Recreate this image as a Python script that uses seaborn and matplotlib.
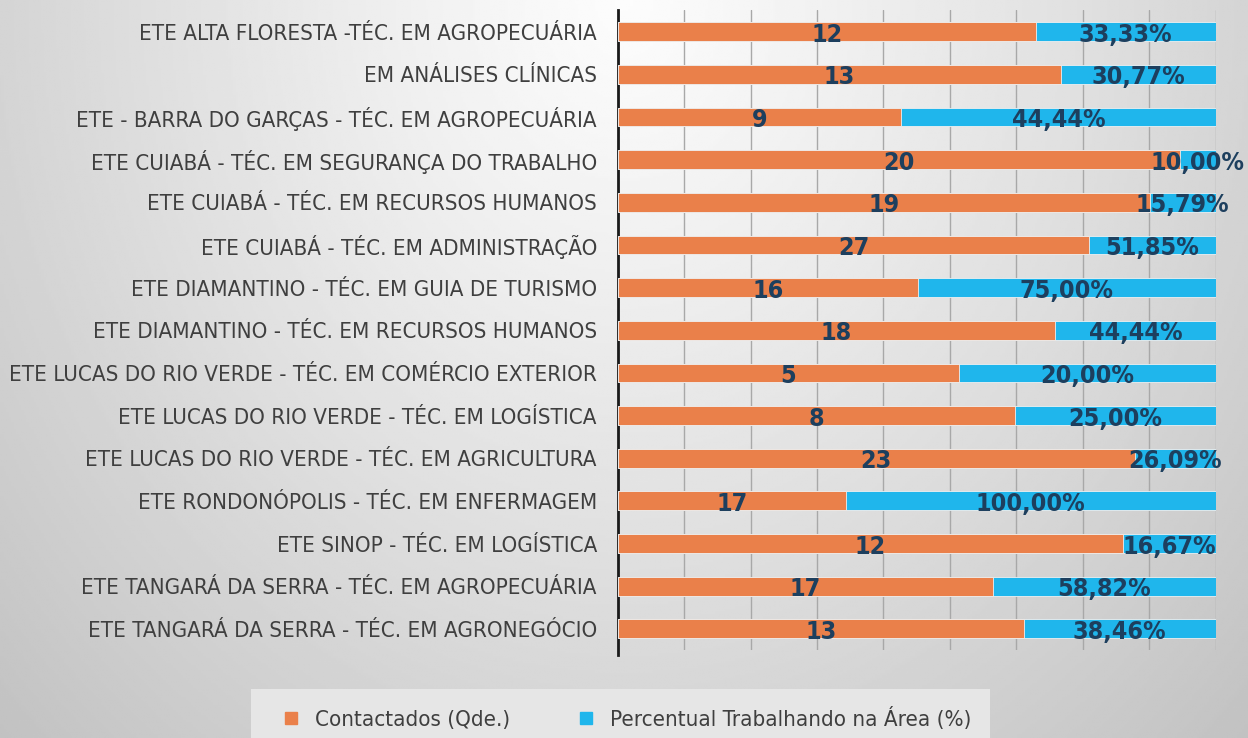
import numpy as np
import pandas as pd
import matplotlib.pyplot as plt
import seaborn as sns

# Dados (de cima para baixo)
cursos = [
    "ETE ALTA FLORESTA -TÉC. EM AGROPECUÁRIA",
    "EM ANÁLISES CLÍNICAS",
    "ETE - BARRA DO GARÇAS - TÉC. EM AGROPECUÁRIA",
    "ETE CUIABÁ - TÉC. EM SEGURANÇA DO TRABALHO",
    "ETE CUIABÁ - TÉC. EM RECURSOS HUMANOS",
    "ETE CUIABÁ - TÉC. EM ADMINISTRAÇÃO",
    "ETE DIAMANTINO - TÉC. EM GUIA DE TURISMO",
    "ETE DIAMANTINO - TÉC. EM RECURSOS HUMANOS",
    "ETE LUCAS DO RIO VERDE - TÉC. EM COMÉRCIO EXTERIOR",
    "ETE LUCAS DO RIO VERDE - TÉC. EM LOGÍSTICA",
    "ETE LUCAS DO RIO VERDE - TÉC. EM AGRICULTURA",
    "ETE RONDONÓPOLIS - TÉC. EM ENFERMAGEM",
    "ETE SINOP - TÉC. EM LOGÍSTICA",
    "ETE TANGARÁ DA SERRA - TÉC. EM AGROPECUÁRIA",
    "ETE TANGARÁ DA SERRA - TÉC. EM AGRONEGÓCIO",
]
contactados = [12, 13, 9, 20, 19, 27, 16, 18, 5, 8, 23, 17, 12, 17, 13]
percentual = ["33,33%", "30,77%", "44,44%", "10,00%", "15,79%", "51,85%", "75,00%",
              "44,44%", "20,00%", "25,00%", "26,09%", "100,00%", "16,67%", "58,82%", "38,46%"]
# comprimento relativo de cada segmento (escala 0-1)
seg_laranja = [0.699, 0.742, 0.474, 0.940, 0.890, 0.789, 0.502, 0.732,
               0.570, 0.664, 0.865, 0.382, 0.845, 0.628, 0.679]
seg_azul = [0.301, 0.258, 0.526, 0.060, 0.110, 0.211, 0.498, 0.268,
            0.430, 0.336, 0.135, 0.618, 0.155, 0.372, 0.321]

df = pd.DataFrame({"curso": cursos, "laranja": seg_laranja, "azul": seg_azul})
df["total"] = df["laranja"] + df["azul"]

laranja = "#EA804A"
azul = "#1FB6EC"
cor_rotulo = "#1D3F5E"
cor_texto = "#3F3F3F"

sns.set_style("white")
plt.rcParams["font.family"] = ["DejaVu Sans"]
plt.rcParams["font.stretch"] = "condensed"

fig = plt.figure(figsize=(12.48, 7.38), dpi=100)

# fundo em degradê cinza
bg = fig.add_axes([0, 0, 1, 1], zorder=-10)
yy, xx = np.mgrid[0:1:300j, 0:1:500j]
r = np.sqrt(((xx - 0.5) / 0.5) ** 2 + yy ** 2) / np.sqrt(2)
bg.imshow(0.99 - 0.23 * r ** 1.1, cmap="gray", vmin=0, vmax=1, aspect="auto",
          extent=[0, 1, 1, 0])
bg.axis("off")

ax = fig.add_axes([0.495, 0.119, 0.479, 0.867])
ax.set_facecolor("none")

sns.barplot(data=df, y="curso", x="total", color=azul, orient="h", width=0.44,
            saturation=1, edgecolor="#f0f0f0", linewidth=0.6, ax=ax, zorder=3)
sns.barplot(data=df, y="curso", x="laranja", color=laranja, orient="h", width=0.44,
            saturation=1, edgecolor="#f0f0f0", linewidth=0.6, ax=ax, zorder=4)

fonte_rot = dict(fontsize=18, fontweight="bold", fontstretch="condensed",
                 color=cor_rotulo, ha="center", va="center", zorder=6)
for i in range(len(cursos)):
    ax.text(seg_laranja[i] / 2, i + 0.07, str(contactados[i]), **fonte_rot)
    ax.text(seg_laranja[i] + seg_azul[i] / 2, i + 0.07, percentual[i], **fonte_rot)

ax.set_xlim(0, 1)
ax.set_ylim(len(cursos) - 0.5, -0.5)
ax.set_xticks(np.linspace(0, 1, 10))
ax.set_xticklabels([])
ax.grid(axis="x", color="#A8A8A8", linewidth=1, zorder=0)
ax.set_axisbelow(True)
ax.tick_params(axis="x", length=5, color="#A8A8A8", width=1)
ax.tick_params(axis="y", length=0, pad=15, labelsize=16, labelcolor=cor_texto)
for t in ax.get_yticklabels():
    t.set_fontstretch("condensed")
ax.set_xlabel("")
ax.set_ylabel("")
for s in ["top", "right", "bottom"]:
    ax.spines[s].set_visible(False)
ax.spines["left"].set_color("#1a1a1a")
ax.spines["left"].set_linewidth(2)
ax.spines["left"].set_bounds(len(cursos) - 0.38, -0.5)

handles = [plt.Line2D([], [], marker="s", linestyle="", color=laranja, markersize=9),
           plt.Line2D([], [], marker="s", linestyle="", color=azul, markersize=9)]
leg = fig.legend(handles, ["Contactados (Qde.)", "Percentual Trabalhando na Área (%)"],
                 loc="center", bbox_to_anchor=(0.497, 0.027), ncol=2, frameon=True,
                 fontsize=16, handletextpad=0.1, columnspacing=2.4,
                 borderpad=0.8, fancybox=False)
leg.get_frame().set_facecolor("#E6E6E6")
leg.get_frame().set_edgecolor("none")
leg.get_frame().set_alpha(1)
for t in leg.get_texts():
    t.set_color(cor_texto)

fig.savefig("out.png", dpi=100)
